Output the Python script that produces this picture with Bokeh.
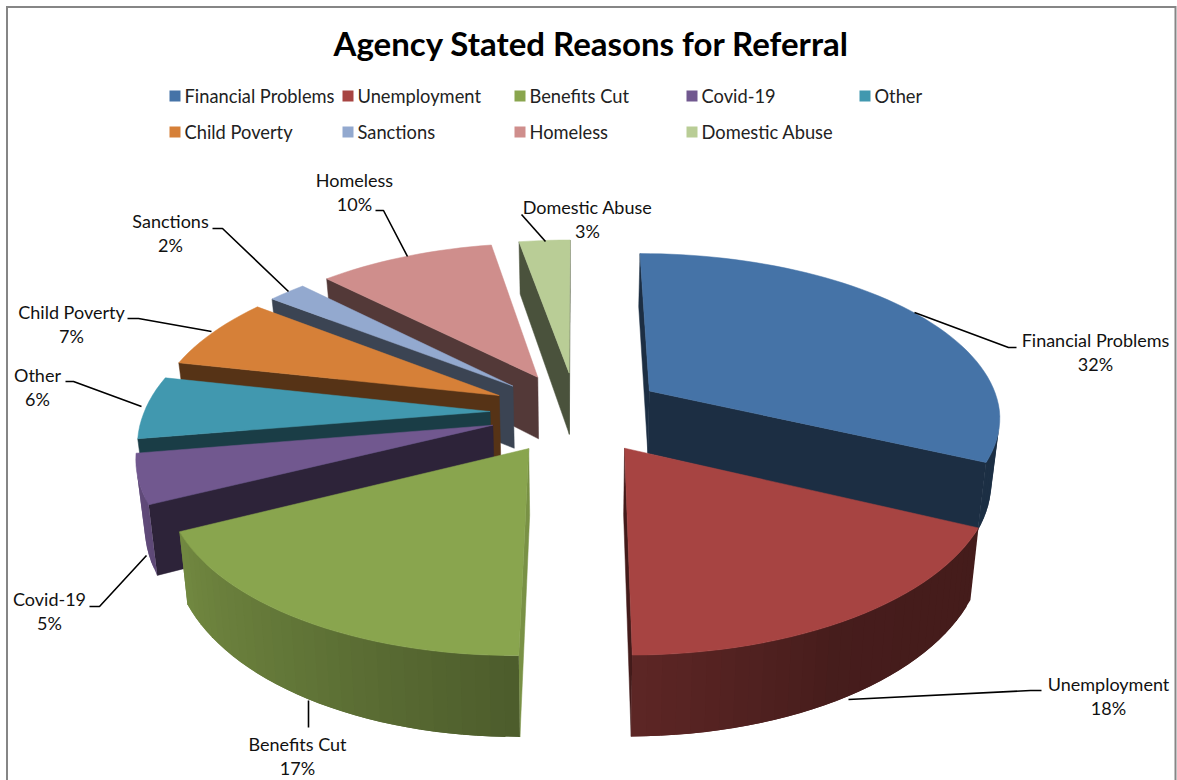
import math
from bokeh.plotting import figure
from bokeh.embed import file_html
from bokeh.resources import INLINE
from bokeh.core.properties import value

# ---- data ----
categories = ["Financial Problems", "Unemployment", "Benefits Cut", "Covid-19", "Other",
              "Child Poverty", "Sanctions", "Homeless", "Domestic Abuse"]
percent_labels = ["32%", "18%", "17%", "5%", "6%", "7%", "2%", "10%", "3%"]
shares = [32.0, 17.9, 17.8, 4.7, 6.0, 7.0, 2.1, 9.7, 2.8]
colors = ["#4573A7", "#A74442", "#89A54E", "#71588F", "#4198AF",
          "#D68038", "#93A9CF", "#CF8E8C", "#B9CD96"]
title = "Agency Stated Reasons for Referral"

# ---- layout (page pixels) ----
FONT = "Lato"
CX, CY = 576, 412        # pie centre on screen
A_RIGHT, A_LEFT = 352, 346   # horizontal radius scale on each side of the centre
B = 164                  # vertical radius scale
P = 0.15                 # perspective strength
EXPLODE = 0.25           # slice explosion
H = 64                   # wall height
SHRINK = 0.98            # bottom face horizontal shrink
SKEW = 4                 # slight sideways drift of the near half

legend_x = [169, 342, 514, 686, 859]
legend_y = [96, 132]

label_pos = [(1095, 339.5), (1108, 683.5), (297, 743.5), (49, 598.5), (37, 374.5),
             (71, 311.5), (170, 220.5), (354, 179.5), (587, 206.5)]
leaders = [
    [(914, 312), (1008, 347), (1016, 347)],
    [(848, 699), (1030, 690), (1041, 690)],
    [(308, 700), (308, 727)],
    [(146, 555), (99, 606), (89, 606)],
    [(141, 406), (73, 381), (65, 381)],
    [(211, 331), (138, 318), (127, 318)],
    [(288, 291), (222, 228), (212, 228)],
    [(407, 256), (383, 210), (375, 210)],
    [(545, 241), (521, 214)],
]

wall_shade_angle = [0, 90, 150, 180, 215, 250, 270, 360]
wall_shade_value = [0.4, 0.4, 0.42, 0.56, 0.72, 0.85, 0.9, 0.9]


def wall_shade(n):
    n %= 360
    for i in range(len(wall_shade_angle) - 1):
        a0, a1 = wall_shade_angle[i], wall_shade_angle[i + 1]
        if a0 <= n <= a1:
            f = (n - a0) / (a1 - a0)
            return wall_shade_value[i] + f * (wall_shade_value[i + 1] - wall_shade_value[i])
    return 0.5


def shade(hex_color, f):
    r, g, b = [int(hex_color[i:i + 2], 16) for i in (1, 3, 5)]
    return "#%02x%02x%02x" % (round(r * f), round(g * f), round(b * f))


def top_pt(X, Z):
    d = 1 + P * Z
    a = A_RIGHT if X >= 0 else A_LEFT
    return CX + a * X / d + SKEW * min(Z, 0), CY - B * Z / d


def bot_pt(X, Z):
    d = 1 + P * Z
    x, y = top_pt(X, Z)
    return CX + (x - CX) * SHRINK, y + H / d ** 1.2


def signed_area(pts):
    s = 0
    for i in range(len(pts)):
        x0, y0 = pts[i]
        x1, y1 = pts[(i + 1) % len(pts)]
        s += x0 * y1 - x1 * y0
    return s / 2


p = figure(width=1177, height=780, x_range=(0, 1177), y_range=(780, 0),
           toolbar_location=None, output_backend="svg", min_border=0,
           outline_line_color=None, background_fill_color="white")
p.axis.visible = False
p.grid.visible = False

# chart frame
p.line([6.5, 6.5], [780, 5.5], line_color="#868686", line_width=2)
p.line([5.5, 1175], [6.5, 6.5], line_color="#868686", line_width=2)
p.line([1175, 1175], [5.5, 780], line_color="#868686", line_width=2)

total = sum(shares)
slices = []
cum = 0
for share, col in zip(shares, colors):
    a0 = cum / total * 360
    cum += share
    a1 = cum / total * 360
    m = math.radians((a0 + a1) / 2)
    ox, oz = EXPLODE * math.sin(m), EXPLODE * math.cos(m)
    slices.append((oz, a0, a1, ox, col))

for oz, a0, a1, ox, col in sorted(slices, key=lambda s: -s[0]):
    steps = max(2, int((a1 - a0) / 2))
    angles = [a0 + (a1 - a0) * i / steps for i in range(steps + 1)]
    # plan-view boundary: apex -> rim -> apex
    plan = [(ox, oz)] + [(ox + math.sin(math.radians(t)), oz + math.cos(math.radians(t))) for t in angles]
    n = len(plan)
    radial_x, radial_y, radial_c = [], [], []
    for i in (0, n - 1):
        q0, q1 = plan[i], plan[(i + 1) % n]
        quad = [top_pt(*q0), top_pt(*q1), bot_pt(*q1), bot_pt(*q0)]
        if signed_area(quad) < 0:
            f = 0.88 if i == 0 and abs(a0 - 180) < 2 else 0.4
            radial_x.append([c[0] for c in quad])
            radial_y.append([c[1] for c in quad])
            radial_c.append(shade(col, f))
    if radial_x:
        p.patches(radial_x, radial_y, fill_color=radial_c, line_color=radial_c, line_width=0.5)
    # outer wall: strips drawn in order, each overlapping the next so no seam shows
    wall_x, wall_y, wall_c = [], [], []
    for i in range(1, n - 1):
        q0, q1 = plan[i], plan[i + 1]
        if signed_area([top_pt(*q0), top_pt(*q1), bot_pt(*q1), bot_pt(*q0)]) >= 0:
            continue
        q2 = plan[min(i + 2, n - 1)] if i + 2 <= n - 1 else q1
        quad = [top_pt(*q0), top_pt(*q2), bot_pt(*q2), bot_pt(*q0)]
        wall_x.append([c[0] for c in quad])
        wall_y.append([c[1] for c in quad])
        wall_c.append(shade(col, wall_shade((angles[i - 1] + angles[i]) / 2)))
    if wall_x:
        p.patches(wall_x, wall_y, fill_color=wall_c, line_color=None)
    top = [top_pt(*c) for c in plan]
    p.patch([c[0] for c in top], [c[1] for c in top], fill_color=col, line_color=col, line_width=0.5)

# leader lines
for pts in leaders:
    p.line([c[0] for c in pts], [c[1] for c in pts], line_color="black", line_width=1.6)

# data labels
for cat, lab, (x, y) in zip(categories, percent_labels, label_pos):
    p.text([x], [y], text=[cat], text_font=value(FONT), text_font_size="18px", text_color="#111111",
           text_align="center", text_baseline="middle")
    p.text([x], [y + 24], text=[lab], text_font=value(FONT), text_font_size="18px", text_color="#111111",
           text_align="center", text_baseline="middle")

# legend
for i, (cat, col) in enumerate(zip(categories, colors)):
    row = 0 if i < 5 else 1
    lx = legend_x[i if i < 5 else i - 5]
    ly = legend_y[row]
    p.quad(left=[lx], right=[lx + 11], top=[ly - 6], bottom=[ly + 5], fill_color=col, line_color=None)
    p.text([lx + 15], [ly - 1], text=[cat], text_font=value(FONT), text_font_size="18.3px", text_color="#222222",
           text_align="left", text_baseline="middle")

# title
p.text([591], [42.5], text=[title], text_font=value(FONT), text_font_style="bold", text_font_size="33px",
       text_color="black", text_align="center", text_baseline="middle")

open("out.html", "w").write(file_html(p, INLINE))
